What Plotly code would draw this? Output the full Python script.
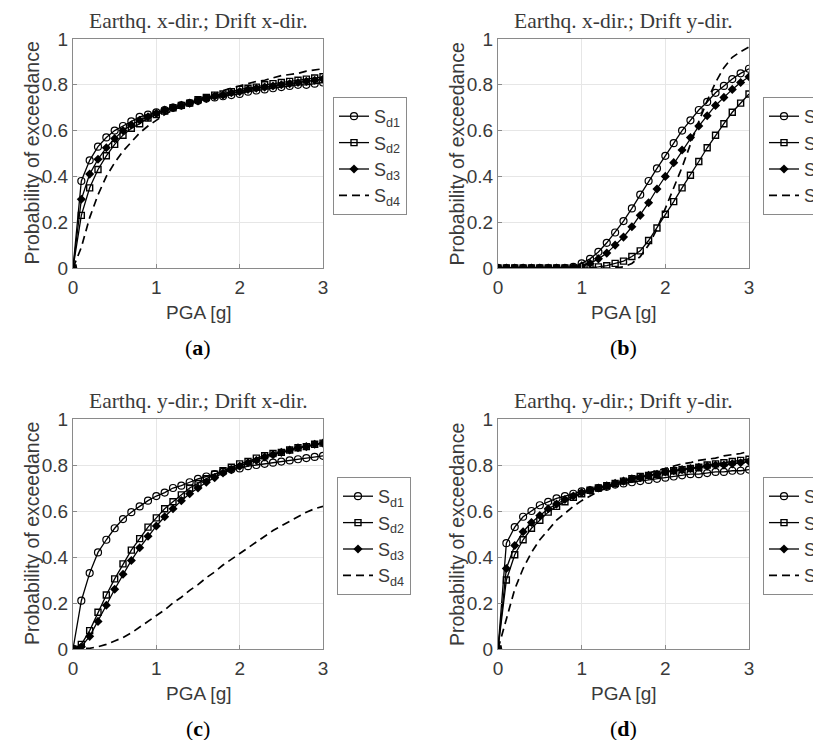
import plotly.graph_objects as go

# page body has an 8px margin, so figure pixel = screen pixel - 8
OFF = 8
W, H = 821 - OFF, 740 - OFF

pga = [round(0.1 * i, 1) for i in range(31)]

# Panel (a): Earthq. x-dir.; Drift x-dir.
a_sd1 = [0, 0.38, 0.47, 0.53, 0.57, 0.60, 0.62, 0.64, 0.66, 0.67, 0.68, 0.69, 0.70, 0.71, 0.72, 0.73,
         0.74, 0.745, 0.75, 0.755, 0.76, 0.77, 0.775, 0.78, 0.785, 0.79, 0.795, 0.80, 0.80, 0.805, 0.81]
a_sd2 = [0, 0.23, 0.35, 0.43, 0.49, 0.54, 0.58, 0.61, 0.63, 0.655, 0.67, 0.685, 0.70, 0.71, 0.72, 0.735,
         0.745, 0.755, 0.76, 0.77, 0.78, 0.785, 0.79, 0.80, 0.805, 0.81, 0.815, 0.82, 0.825, 0.83, 0.835]
a_sd3 = [0, 0.30, 0.41, 0.475, 0.525, 0.565, 0.60, 0.625, 0.645, 0.66, 0.675, 0.69, 0.70, 0.71, 0.72, 0.73,
         0.74, 0.75, 0.755, 0.765, 0.77, 0.78, 0.785, 0.79, 0.795, 0.80, 0.805, 0.81, 0.815, 0.82, 0.825]
a_sd4 = [0, 0.09, 0.22, 0.32, 0.40, 0.46, 0.51, 0.55, 0.59, 0.62, 0.645, 0.67, 0.69, 0.705, 0.72, 0.735,
         0.75, 0.76, 0.775, 0.785, 0.795, 0.805, 0.815, 0.82, 0.83, 0.84, 0.845, 0.85, 0.86, 0.865, 0.87]

# Panel (b): Earthq. x-dir.; Drift y-dir.
b_sd1 = [0, 0, 0, 0, 0, 0, 0, 0, 0, 0.005, 0.02, 0.04, 0.07, 0.11, 0.155, 0.205,
         0.26, 0.32, 0.38, 0.435, 0.49, 0.545, 0.60, 0.645, 0.69, 0.725, 0.765, 0.795, 0.825, 0.85, 0.87]
b_sd2 = [0, 0, 0, 0, 0, 0, 0, 0, 0, 0, 0, 0.002, 0.005, 0.01, 0.02, 0.03,
         0.05, 0.075, 0.12, 0.175, 0.235, 0.29, 0.35, 0.405, 0.465, 0.525, 0.58, 0.63, 0.68, 0.72, 0.76]
b_sd3 = [0, 0, 0, 0, 0, 0, 0, 0, 0, 0.002, 0.01, 0.02, 0.04, 0.065, 0.10, 0.135,
         0.18, 0.23, 0.285, 0.345, 0.40, 0.46, 0.515, 0.57, 0.62, 0.665, 0.71, 0.745, 0.78, 0.81, 0.835]
b_sd4 = [0, 0, 0, 0, 0, 0, 0, 0, 0, 0, 0, 0, 0, 0, 0, 0.005,
         0.02, 0.05, 0.10, 0.17, 0.26, 0.35, 0.44, 0.54, 0.64, 0.73, 0.81, 0.875, 0.92, 0.945, 0.965]

# Panel (c): Earthq. y-dir.; Drift x-dir.
c_sd1 = [0, 0.21, 0.33, 0.42, 0.475, 0.525, 0.565, 0.595, 0.62, 0.645, 0.665, 0.68, 0.70, 0.71, 0.725, 0.74,
         0.75, 0.76, 0.77, 0.78, 0.785, 0.795, 0.80, 0.805, 0.81, 0.815, 0.82, 0.825, 0.83, 0.835, 0.84]
c_sd2 = [0, 0.02, 0.08, 0.16, 0.235, 0.305, 0.37, 0.43, 0.48, 0.53, 0.57, 0.61, 0.64, 0.67, 0.70, 0.72,
         0.74, 0.76, 0.775, 0.79, 0.805, 0.815, 0.83, 0.84, 0.85, 0.855, 0.865, 0.875, 0.88, 0.89, 0.895]
c_sd3 = [0, 0.01, 0.055, 0.12, 0.19, 0.26, 0.325, 0.385, 0.44, 0.49, 0.535, 0.575, 0.61, 0.645, 0.675, 0.70,
         0.725, 0.745, 0.765, 0.78, 0.795, 0.81, 0.82, 0.835, 0.845, 0.855, 0.865, 0.875, 0.88, 0.89, 0.895]
c_sd4 = [0, 0, 0.003, 0.01, 0.02, 0.035, 0.05, 0.07, 0.095, 0.12, 0.145, 0.17, 0.20, 0.225, 0.255, 0.28,
         0.31, 0.335, 0.365, 0.39, 0.415, 0.44, 0.465, 0.49, 0.515, 0.535, 0.555, 0.575, 0.595, 0.61, 0.62]

# Panel (d): Earthq. y-dir.; Drift y-dir.
d_sd1 = [0, 0.46, 0.53, 0.575, 0.60, 0.625, 0.64, 0.655, 0.665, 0.675, 0.685, 0.69, 0.70, 0.705, 0.715, 0.72,
         0.725, 0.73, 0.735, 0.74, 0.745, 0.75, 0.755, 0.76, 0.76, 0.765, 0.77, 0.77, 0.775, 0.775, 0.78]
d_sd2 = [0, 0.30, 0.41, 0.475, 0.525, 0.56, 0.595, 0.62, 0.64, 0.66, 0.675, 0.69, 0.70, 0.71, 0.72, 0.73,
         0.74, 0.75, 0.755, 0.76, 0.77, 0.775, 0.78, 0.785, 0.79, 0.80, 0.805, 0.81, 0.815, 0.82, 0.825]
d_sd3 = [0, 0.35, 0.45, 0.51, 0.55, 0.58, 0.61, 0.63, 0.65, 0.665, 0.68, 0.69, 0.70, 0.71, 0.72, 0.73,
         0.74, 0.745, 0.755, 0.76, 0.77, 0.775, 0.78, 0.785, 0.79, 0.795, 0.80, 0.80, 0.805, 0.81, 0.815]
d_sd4 = [0, 0.13, 0.26, 0.35, 0.42, 0.475, 0.52, 0.56, 0.59, 0.62, 0.645, 0.665, 0.685, 0.70, 0.715, 0.73,
         0.745, 0.755, 0.765, 0.775, 0.785, 0.795, 0.805, 0.81, 0.82, 0.825, 0.83, 0.84, 0.845, 0.85, 0.86]

titles = ["Earthq. x-dir.; Drift x-dir.", "Earthq. x-dir.; Drift y-dir.",
          "Earthq. y-dir.; Drift x-dir.", "Earthq. y-dir.; Drift y-dir."]
captions = ["(<b>a</b>)", "(<b>b</b>)", "(<b>c</b>)", "(<b>d</b>)"]
series_names = ["S<sub>d1</sub>", "S<sub>d2</sub>", "S<sub>d3</sub>", "S<sub>d4</sub>"]
x_ticks = [0, 1, 2, 3]
y_ticks = [0, 0.2, 0.4, 0.6, 0.8, 1]
x_title = "PGA [g]"
y_title = "Probability of exceedance"

panels = [
    [a_sd1, a_sd2, a_sd3, a_sd4],
    [b_sd1, b_sd2, b_sd3, b_sd4],
    [c_sd1, c_sd2, c_sd3, c_sd4],
    [d_sd1, d_sd2, d_sd3, d_sd4],
]

# screen-pixel boxes of plot areas (left, right, top, bottom)
boxes = [(73, 323, 39, 268), (498, 749, 39, 268), (73, 323, 419, 649), (498, 749, 419, 649)]
legend_pos = [(333, 97), (763, 97), (337, 477), (763, 477)]


def px(xs):
    return (xs - OFF) / W


def py(ys):
    return 1 - (ys - OFF) / H


AX = "#8a8a8a"
TXT = "#3a3a3a"
SANS = "Liberation Sans, Arial, sans-serif"
SERIF = "Liberation Serif, Times New Roman, serif"

styles = [
    dict(mode="lines+markers", line=dict(color="black", width=1.3),
         marker=dict(symbol="circle-open", size=7, color="black", line=dict(width=1.2))),
    dict(mode="lines+markers", line=dict(color="black", width=1.3),
         marker=dict(symbol="square-open", size=6, color="black", line=dict(width=1.4))),
    dict(mode="lines+markers", line=dict(color="black", width=1.3),
         marker=dict(symbol="diamond", size=7, color="black", line=dict(width=0))),
    dict(mode="lines", line=dict(color="black", width=1.7, dash="8px,5px")),
]

fig = go.Figure()
annotations = []

for p, (series, box, lp) in enumerate(zip(panels, boxes, legend_pos)):
    idx = "" if p == 0 else str(p + 1)
    xa, ya = "x" + idx, "y" + idx
    leg = "legend" + idx
    for s, (vals, name, st) in enumerate(zip(series, series_names, styles)):
        fig.add_trace(go.Scatter(x=pga, y=vals, name=name, xaxis=xa, yaxis=ya,
                                 legend=leg, showlegend=True, **st))
    l, r, t, b = box
    fig.update_layout(**{
        "xaxis" + idx: dict(domain=[px(l), px(r)], range=[0, 3], tickvals=x_ticks,
                            anchor=ya, showline=True, mirror=True, linecolor=AX, linewidth=1,
                            showgrid=True, gridcolor="#e6e6e6", gridwidth=1, zeroline=False,
                            ticks="inside", ticklen=4, tickcolor=AX, ticklabelstandoff=2,
                            tickfont=dict(family=SANS, size=19, color=TXT)),
        "yaxis" + idx: dict(domain=[py(b), py(t)], range=[0, 1], tickvals=y_ticks,
                            anchor=xa, showline=True, mirror=True, linecolor=AX, linewidth=1,
                            showgrid=True, gridcolor="#e6e6e6", gridwidth=1, zeroline=False,
                            ticks="inside", ticklen=4, tickcolor=AX,
                            tickfont=dict(family=SANS, size=19, color=TXT)),
        leg: dict(x=px(lp[0]), y=py(lp[1]), xanchor="left", yanchor="top",
                  bordercolor=AX, borderwidth=1, bgcolor="white",
                  font=dict(family=SANS, size=18, color=TXT), tracegroupgap=0,
                  itemwidth=30),
    })
    cx = (l + r) / 2
    annotations.append(dict(text=titles[p], x=px(cx), y=py(t - 18), xref="paper", yref="paper",
                            showarrow=False, font=dict(family=SERIF, size=21.5, color=TXT),
                            xanchor="center", yanchor="middle"))
    annotations.append(dict(text=x_title, x=px(cx), y=py(b + 44), xref="paper", yref="paper",
                            showarrow=False, font=dict(family=SANS, size=19, color=TXT),
                            xanchor="center", yanchor="middle"))
    annotations.append(dict(text=y_title, x=px(l - 41), y=py((t + b) / 2), xref="paper",
                            yref="paper", showarrow=False, textangle=-90,
                            font=dict(family=SANS, size=19.5, color=TXT),
                            xanchor="center", yanchor="middle"))
    annotations.append(dict(text=captions[p], x=px(cx), y=py(b + 79), xref="paper", yref="paper",
                            showarrow=False, font=dict(family=SERIF, size=22, color="black"),
                            xanchor="center", yanchor="middle"))

fig.update_layout(width=W, height=H, margin=dict(l=0, r=0, t=0, b=0, autoexpand=False),
                  paper_bgcolor="white", plot_bgcolor="white", annotations=annotations,
                  showlegend=True)

fig.write_html("out.html")
